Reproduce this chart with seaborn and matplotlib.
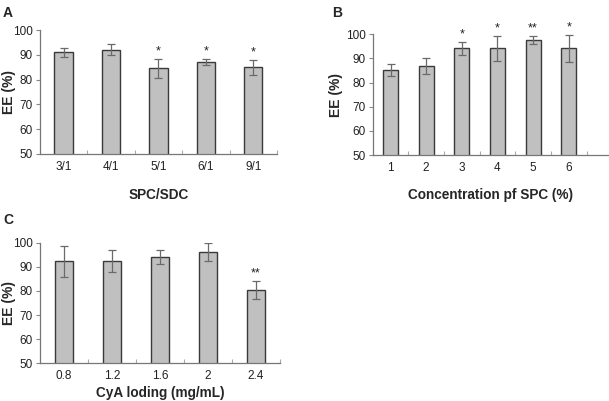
import pandas as pd
import matplotlib.pyplot as plt
import seaborn as sns
from matplotlib.ticker import FixedLocator

# Data
ratio_labels = ['3/1', '4/1', '5/1', '6/1', '9/1']
ratio_ee = [91.0, 92.1, 84.5, 87.0, 84.9]
ratio_err = [1.7, 2.3, 3.7, 1.2, 3.0]
ratio_sig = ['', '', '*', '*', '*']

conc_labels = ['1', '2', '3', '4', '5', '6']
conc_ee = [85.0, 86.7, 94.1, 94.1, 97.4, 94.1]
conc_err = [2.5, 3.3, 2.8, 5.2, 1.7, 5.6]
conc_sig = ['', '', '*', '*', '**', '*']

cya_labels = ['0.8', '1.2', '1.6', '2', '2.4']
cya_ee = [92.3, 92.3, 94.2, 96.1, 80.4]
cya_err = [6.5, 4.5, 2.9, 3.6, 3.9]
cya_sig = ['', '', '', '', '**']

sns.set_style("white")
plt.rcParams['font.family'] = ['Liberation Sans', 'DejaVu Sans']

fig = plt.figure(figsize=(6.09, 4.01), dpi=100)

panels = [
    ('A', ratio_labels, ratio_ee, ratio_err, ratio_sig, 'SPC/SDC',
     [0.0657, 0.616, 0.389, 0.309], 0.39, 4.5, 10.5, 0.026),
    ('B', conc_labels, conc_ee, conc_err, conc_sig, 'Concentration pf SPC (%)',
     [0.612, 0.613, 0.388, 0.302], 0.42, 6.13, 10, 0.564),
    ('C', cya_labels, cya_ee, cya_err, cya_sig, 'CyA loding (mg/mL)',
     [0.0657, 0.094, 0.394, 0.301], 0.39, 4.5, 3, 0.026),
]

for letter, labels, ee, err, sig, xlabel, rect, bw, xmax, xpad, ylab_x in panels:
    ax = fig.add_axes(rect)
    df = pd.DataFrame({'group': labels, 'EE': ee})
    sns.barplot(x='group', y='EE', data=df, ax=ax, color='#c0c0c0',
                edgecolor='#3a3a3a', linewidth=1.0, width=bw, saturation=1)
    ax.errorbar(range(len(labels)), ee, yerr=err, fmt='none',
                ecolor='#6a6a6a', elinewidth=0.9, capsize=3, capthick=0.9)
    for i, s in enumerate(sig):
        if s:
            ax.annotate(s, (i, ee[i] + err[i]), xytext=(0, 1),
                        textcoords='offset points', ha='center', va='bottom',
                        fontsize=9, color='#222222')
    ax.set_ylim(50, 100)
    ax.set_xlim(-0.5, xmax)
    ax.set_yticks([50, 60, 70, 80, 90, 100])
    ax.set_ylabel('EE (%)', fontsize=10, fontweight='bold')
    ax.yaxis.set_label_coords(ylab_x, rect[1] + rect[3] / 2, transform=fig.transFigure)
    ax.set_xlabel(xlabel, fontsize=9.8, fontweight='bold', labelpad=xpad)
    ax.tick_params(axis='y', which='major', direction='out', length=3,
                   width=0.8, color='#888888', labelsize=8.5, pad=2, left=True)
    ax.tick_params(axis='x', which='major', length=0, labelsize=8.5, pad=5)
    ax.xaxis.set_minor_locator(FixedLocator([i + 0.5 for i in range(len(labels))]))
    ax.tick_params(axis='x', which='minor', direction='in', length=3,
                   width=0.8, color='#aaaaaa', bottom=True)
    for side in ['top', 'right']:
        ax.spines[side].set_visible(False)
    for side in ['left', 'bottom']:
        ax.spines[side].set_color('#777777')
        ax.spines[side].set_linewidth(0.9)
    for t in ax.get_xticklabels() + ax.get_yticklabels():
        t.set_color('#222222')

fig.text(0.005, 0.985, 'A', fontsize=10, fontweight='bold', va='top')
fig.text(0.546, 0.985, 'B', fontsize=10, fontweight='bold', va='top')
fig.text(0.005, 0.468, 'C', fontsize=10, fontweight='bold', va='top')

plt.savefig('out.png', dpi=100)
